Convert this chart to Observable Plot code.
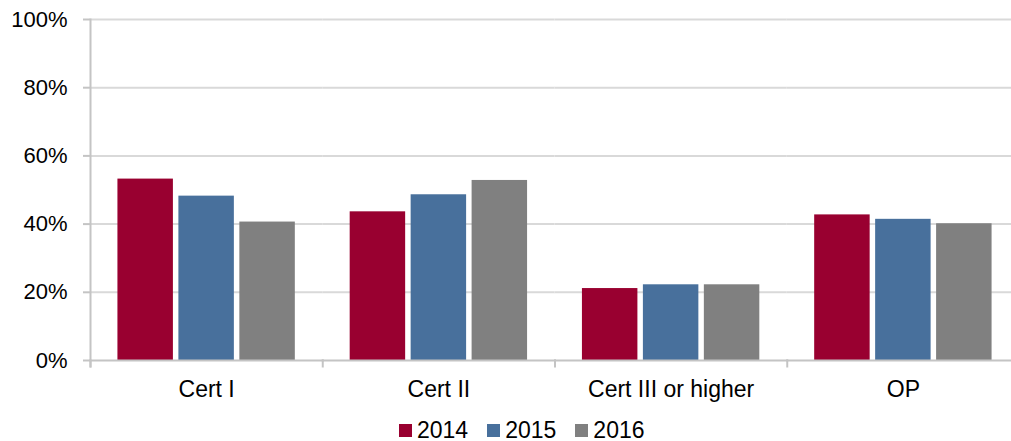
<!DOCTYPE html>
<html>
<head>
<meta charset="utf-8">
<script src="https://cdn.jsdelivr.net/npm/d3@7"></script>
<script src="https://cdn.jsdelivr.net/npm/@observablehq/plot@0.6"></script>
<style>
  html, body { margin: 0; padding: 0; background: #fff; overflow: hidden; }
  body { font-family: "Liberation Sans", Arial, sans-serif; }
  #chart { width: 1011px; overflow: hidden; }
  #chart svg { display: block; max-width: none !important; }
  .legend { display: flex; align-items: center; height: 31px; margin-top: 5px; padding-left: 399px; font-size: 23px; color: #000; }
  .legend .item { display: flex; align-items: center; margin-right: 19px; }
  .legend .sw { width: 13px; height: 13px; margin-right: 5px; }
</style>
</head>
<body>
<div id="chart"></div>
<script>
const categories = ["Cert I", "Cert II", "Cert III or higher", "OP"];
const years = ["2014", "2015", "2016"];
const v2014 = [53.2, 43.6, 21.1, 42.7];
const v2015 = [48.2, 48.6, 22.2, 41.4];
const v2016 = [40.6, 52.8, 22.2, 40.1];
const yTicks = [0, 20, 40, 60, 80, 100];
const colors = ["#990030", "#48709C", "#808080"];

const series = [v2014, v2015, v2016];
const data = [];
categories.forEach((c, i) => {
  years.forEach((yr, j) => data.push({category: c, year: yr, value: series[j][i]}));
});

const W = 1020, H = 410, ML = 90, MR = 1, MT = 19, MB = 50;

const chart = Plot.plot({
  width: W,
  height: H,
  marginLeft: ML,
  marginRight: MR,
  marginTop: MT,
  marginBottom: MB,
  style: {fontFamily: "'Liberation Sans', Arial, sans-serif", fontSize: "22px", color: "#000", background: "#fff", maxWidth: "none"},
  fx: {domain: categories, padding: 0, round: false, label: null, axis: null},
  x: {domain: years, paddingInner: 0.09, paddingOuter: 0.45, round: false, axis: null},
  y: {domain: [0, 100], label: null, axis: null},
  color: {domain: years, range: colors},
  marks: [
    Plot.ruleY(yTicks.filter(d => d > 0), {stroke: "#d9d9d9", strokeWidth: 2}),
    Plot.barY(data, {fx: "category", x: "year", y: "value", fill: "year"}),
    Plot.frame({anchor: "bottom", stroke: "#c4c4c4", strokeWidth: 2}),
    Plot.frame({anchor: "left", facetAnchor: "left", stroke: "#c4c4c4", strokeWidth: 2, insetBottom: -6}),
    Plot.frame({anchor: "left", stroke: "#c4c4c4", strokeWidth: 2, insetTop: H - MT - MB, insetBottom: -6}),
    Plot.axisY({ticks: yTicks, tickFormat: d => d + "%", tickSize: 7, tickPadding: 16, fontSize: 22, stroke: "#c4c4c4", strokeWidth: 2, color: "#000"}),
    Plot.axisFx({anchor: "bottom", tickSize: 0, tickPadding: 20, fontSize: 23, label: null, color: "#000"})
  ]
});
document.getElementById("chart").appendChild(chart);

const legend = document.createElement("div");
legend.className = "legend";
years.forEach((yr, j) => {
  const item = document.createElement("div");
  item.className = "item";
  const sw = document.createElement("span");
  sw.className = "sw";
  sw.style.background = colors[j];
  const t = document.createElement("span");
  t.textContent = yr;
  item.appendChild(sw);
  item.appendChild(t);
  legend.appendChild(item);
});
document.body.appendChild(legend);
</script>
</body>
</html>
